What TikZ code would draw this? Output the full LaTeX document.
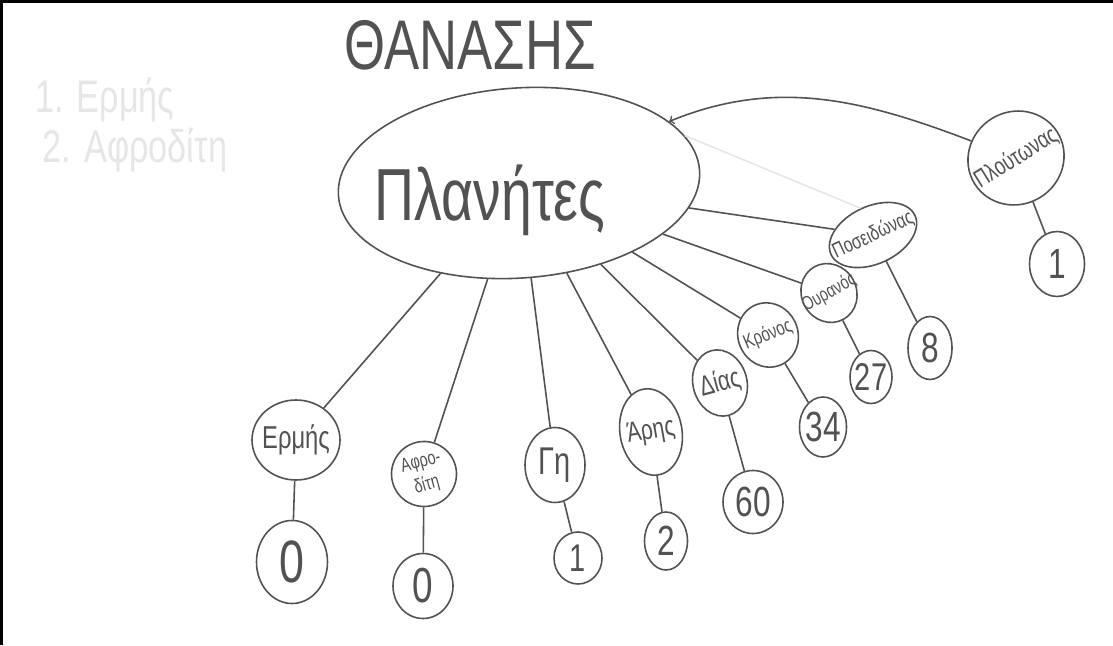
\documentclass[tikz,border=0pt]{standalone}
\usepackage{fontspec}
\setmainfont{Liberation Sans}
\newfontfamily\hand[FakeStretch=0.75]{Liberation Sans}
\usetikzlibrary{shapes.geometric}
\definecolor{pencil}{RGB}{82,82,82}
\definecolor{erased}{RGB}{230,230,230}
\newcommand{\nb}[1]{\makebox[0pt]{#1}}
\tikzset{
  body/.style={draw=pencil, ellipse, inner sep=0pt, line width=0.9pt, text=pencil},
  planet/.style={body, font=\hand\fontsize{#1}{#1}\selectfont},
  planet/.default=14,
  conn/.style={draw=pencil, line width=0.9pt},
}
\begin{document}
\begin{tikzpicture}
\useasboundingbox (0,0) rectangle (22.26,12.9);
\fill[white] (0,0) rectangle (22.26,12.9);
\draw[line width=1.6pt] (0.03,0) -- (0.03,12.87) -- (22.26,12.87);

% title and erased notes
\node[text=pencil, font=\hand\fontsize{40}{40}\selectfont] at (9.40,12.00) (title) {ΘΑΝΑΣΗΣ};
\node[text=erased, font=\hand\fontsize{26}{26}\selectfont] at (2.1,10.9) (noteA) {1. Ερμής};
\node[text=erased, font=\hand\fontsize{26}{26}\selectfont] at (2.7,9.9) (noteB) {2. Αφροδίτη};

% centre
\node[body, minimum width=7.24cm, minimum height=3.8cm, rotate=4,
  label={[text=pencil, font=\hand\fontsize{42}{42}\selectfont, xshift=-0.58cm, yshift=-0.34cm]center:Πλανήτες}] at (10.38,9.24) (main) {};

% planets
\node[planet=18, minimum width=1.76cm, minimum height=1.6cm] at (5.92,4.10) (erm) {\nb{Ερμής}};
\node[planet=11, minimum width=1.3cm, minimum height=1.3cm, rotate=15] at (8.48,3.42) (afr) {\nb{\shortstack{Αφρο-\\δίτη}}};
\node[planet=22, minimum width=1.2cm, minimum height=1.5cm] at (11.10,3.60) (gi) {\nb{Γη}};
\node[planet=16, minimum width=1.24cm, minimum height=1.74cm, rotate=10] at (13.02,4.26) (ari) {\nb{Άρης}};
\node[planet=16, minimum width=1.08cm, minimum height=1.34cm, rotate=15] at (14.40,5.24) (dias) {\nb{Δίας}};
\node[planet=11.5, minimum width=1.2cm, minimum height=1.3cm, rotate=23] at (15.36,6.20) (kron) {\nb{Κρόνος}};
\node[planet=11, minimum width=1.1cm, minimum height=1.2cm, rotate=29] at (16.58,7.04) (our) {\nb{Ουρανός}};
\node[planet=12, minimum width=1.85cm, minimum height=1.15cm, rotate=25] at (17.46,8.20) (pos) {\nb{Ποσειδώνας}};
\node[planet=14, minimum width=1.95cm, minimum height=1.85cm, rotate=32] at (20.32,9.74) (plu) {\nb{Πλούτωνας}};

% moons
\node[planet=34, minimum width=1.42cm, minimum height=1.66cm] at (5.84,1.66) (erm0) {\nb{0}};
\node[planet=28, minimum width=1.2cm, minimum height=1.3cm] at (8.46,1.18) (afr0) {\nb{0}};
\node[planet=22, minimum width=0.96cm, minimum height=1.04cm] at (11.56,1.74) (gi1) {\nb{1}};
\node[planet=24, minimum width=0.86cm, minimum height=1.16cm] at (13.32,2.08) (ari2) {\nb{2}};
\node[planet=24, minimum width=1.2cm, minimum height=1.26cm] at (15.06,2.86) (dias60) {\nb{60}};
\node[planet=24, minimum width=0.94cm, minimum height=1.2cm] at (16.46,4.36) (kron34) {\nb{34}};
\node[planet=22, minimum width=0.84cm, minimum height=1.06cm] at (17.42,5.36) (our27) {\nb{27}};
\node[planet=24, minimum width=0.88cm, minimum height=1.26cm] at (18.60,5.94) (pos8) {\nb{8}};
\node[planet=24, minimum width=1.1cm, minimum height=1.3cm] at (21.14,7.62) (plu1) {\nb{1}};

% connectors
\draw[conn] (main) -- (erm);
\draw[conn] (main) -- (afr);
\draw[conn] (main) -- (gi);
\draw[conn] (main) -- (ari);
\draw[conn] (main) -- (dias);
\draw[conn] (main) -- (kron);
\draw[conn] (main) -- (our);
\draw[conn] (main) -- (pos);
\draw[conn, draw=erased] (main.12) -- (pos.north);
\draw[conn, ->] (plu) to[out=150, in=20] (main);

\draw[conn] (erm) -- (erm0);
\draw[conn] (afr) -- (afr0);
\draw[conn] (gi) -- (gi1);
\draw[conn] (ari) -- (ari2);
\draw[conn] (dias) -- (dias60);
\draw[conn] (kron) -- (kron34);
\draw[conn] (our) -- (our27);
\draw[conn] (pos) -- (pos8);
\draw[conn] (plu) -- (plu1);
\end{tikzpicture}
\end{document}
